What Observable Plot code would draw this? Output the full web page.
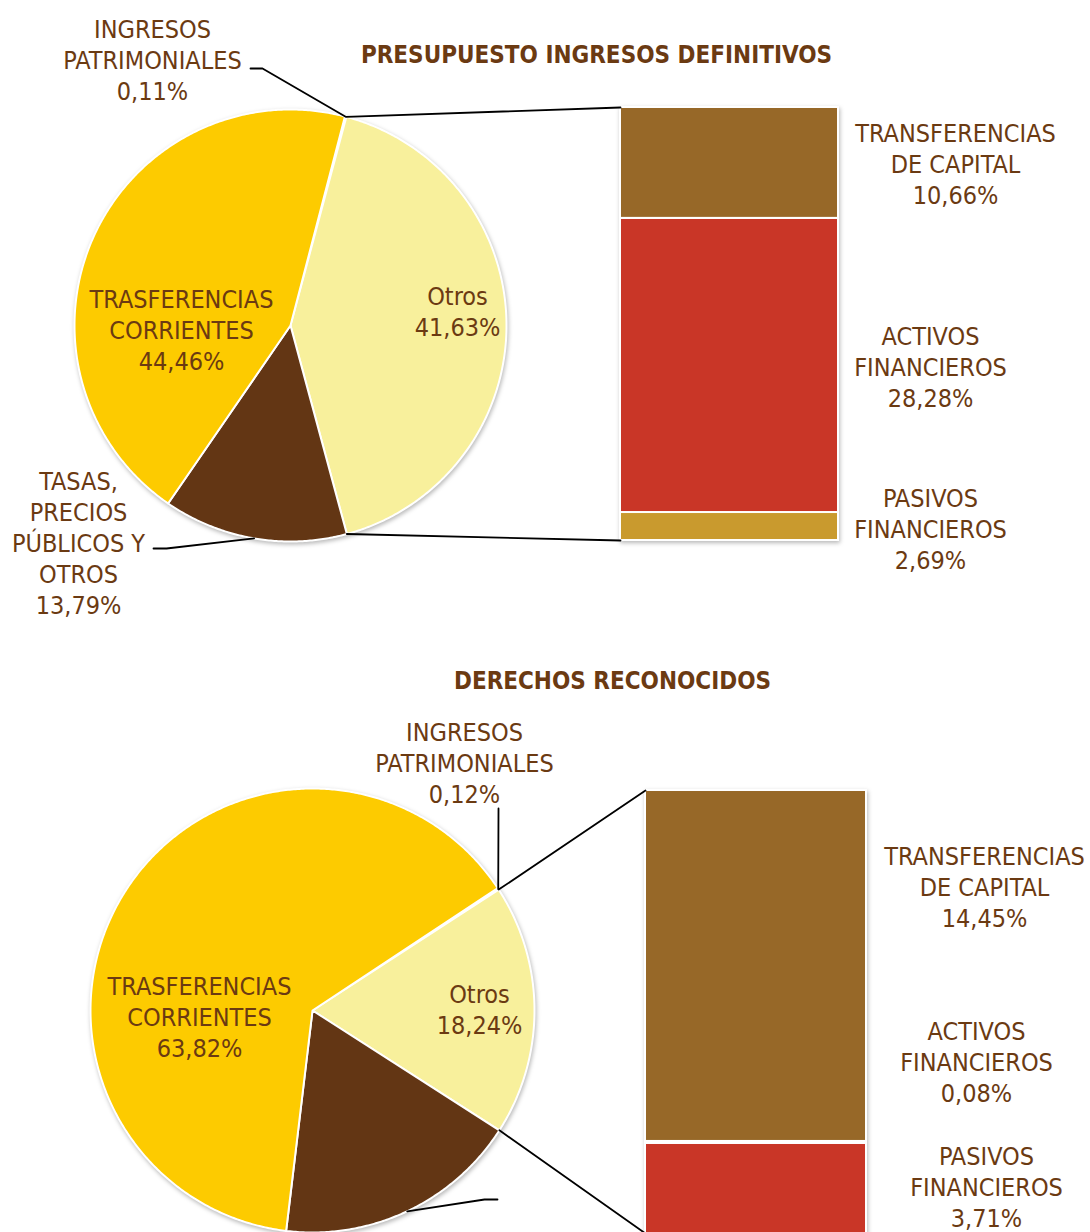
<!DOCTYPE html>
<html><head><meta charset="utf-8">
<script src="https://cdn.jsdelivr.net/npm/d3@7"></script>
<script src="https://cdn.jsdelivr.net/npm/@observablehq/plot@0.6"></script>
<style>
body{margin:0;background:#fff;}
#root{position:relative;width:1090px;height:1232px;overflow:hidden;background:#fff;}
#root svg{position:absolute;left:0;top:0;background:transparent !important;max-width:none !important;}
</style></head><body><div id="root"></div>
<script>
// ---------- DATA ----------
const titles = ["PRESUPUESTO INGRESOS DEFINITIVOS", "DERECHOS RECONOCIDOS"];
const pieCategories = ["INGRESOS\nPATRIMONIALES", "Otros", "TASAS,\nPRECIOS\nPÚBLICOS Y\nOTROS", "TRASFERENCIAS\nCORRIENTES"];
const pieColors = ["#F4C000", "#F8F09C", "#633614", "#FDCB00"];
const presupuestoPie = [0.11, 41.63, 13.79, 44.46];
const derechosPie = [0.12, 18.24, 17.82, 63.82];
const barCategories = ["PASIVOS\nFINANCIEROS", "ACTIVOS\nFINANCIEROS", "TRANSFERENCIAS\nDE CAPITAL"];
const presupuestoBarColors = ["#C99A2E", "#C93627", "#976828"];
const derechosBarColors = ["#C93627", "#C99A2E", "#976828"];
const presupuestoBar = [2.69, 28.28, 10.66];
const derechosBar = [3.71, 0.08, 14.45];

// ---------- LAYOUT ----------
const W = 1090, H = 1232;
const TEXT = "#6B3A12";
const FONT = "'DejaVu Sans Condensed', 'DejaVu Sans', sans-serif";
const charts = [
  {
    title: titles[0], titleX: 596, titleY: 55,
    pie: presupuestoPie, bar: presupuestoBar, barColors: presupuestoBarColors,
    cx: 290, cy: 325, r: 216, start: 14.6,
    bx1: 620, bx2: 838, btop: 107, bbottom: 540,
    pieLabelPos: [[152, 59], [457, 310.5], [78, 541.5], [181, 329]],
    barLabelPos: [[930, 528], [930, 366], [955, 163]],
    leaders: [[0, [[250, 68], [262, 68]]], [2, [[153, 548], [166, 548]]]]
  },
  {
    title: titles[1], titleX: 612, titleY: 681,
    pie: derechosPie, bar: derechosBar, barColors: derechosBarColors,
    cx: 312, cy: 1010, r: 222, start: 56.57,
    bx1: 645, bx2: 866, btop: 790, bbottom: 1233,
    pieLabelPos: [[464, 762], [479, 1008.5], null, [199, 1016]],
    barLabelPos: [[986, 1186], [976, 1061], [984, 886]],
    leaders: [[0, [[498, 808]]], [2, [[497, 1199], [484, 1199]]]]
  }
];

const fmt = v => v.toFixed(2).replace(".", ",") + "%";
const rad = d => d * Math.PI / 180;
const root = document.getElementById("root");

function addPlot(opts, extraStyle) {
  const svg = Plot.plot(Object.assign({
    width: W, height: H, margin: 0,
    style: {background: "transparent", overflow: "visible"}
  }, opts));
  if (extraStyle) svg.style.filter = extraStyle;
  root.appendChild(svg);
  return svg;
}

for (const c of charts) {
  const pie = d3.pie().sort(null).value(d => d.value)
    .startAngle(rad(c.start)).endAngle(rad(c.start) + 2 * Math.PI);
  const slices = pie(c.pie.map((v, i) => ({key: pieCategories[i], value: v, color: pieColors[i], i})));

  // slice polygons in unit coordinates (x = sin, y = -cos)
  const pts = [];
  for (const s of slices) {
    const n = Math.max(2, Math.ceil((s.endAngle - s.startAngle) / rad(0.5)));
    pts.push({k: s.data.i, x: 0, y: 0, color: s.data.color});
    for (let j = 0; j <= n; j++) {
      const a = s.startAngle + (s.endAngle - s.startAngle) * j / n;
      pts.push({k: s.data.i, x: Math.sin(a), y: -Math.cos(a), color: s.data.color});
    }
  }
  addPlot({
    x: {domain: [-1, 1], range: [c.cx - c.r, c.cx + c.r], axis: null},
    y: {domain: [-1, 1], range: [c.cy - c.r, c.cy + c.r], axis: null},
    color: {type: "identity"},
    marks: [
      Plot.line(pts, {x: "x", y: "y", z: "k", fill: "color", stroke: "white", strokeWidth: 2, curve: "linear-closed", strokeLinejoin: "round"})
    ]
  }, "drop-shadow(1px 2px 2px rgba(0,0,0,0.28))");

  // stacked bar
  const total = d3.sum(c.bar);
  const barData = c.bar.map((v, i) => ({key: barCategories[i], value: v, color: c.barColors[i]}));
  addPlot({
    x: {type: "band", domain: ["bar"], range: [c.bx1, c.bx2], padding: 0, axis: null},
    y: {domain: [0, total], range: [c.bbottom, c.btop], axis: null},
    color: {type: "identity"},
    marks: [
      Plot.barY(barData, {x: () => "bar", y: "value", fill: "color", stroke: "white", strokeWidth: 2, inset: 0})
    ]
  }, "drop-shadow(1px 2px 2px rgba(0,0,0,0.28))");

  // annotations (pixel space)
  const P = a => [c.cx + c.r * Math.sin(a), c.cy - c.r * Math.cos(a)];
  const lines = [];
  c.leaders.forEach(([si, anchor], li) => {
    const s = slices[si];
    const end = P((s.startAngle + s.endAngle) / 2);
    [...anchor, end].forEach(p => lines.push({id: "L" + li, x: p[0], y: p[1]}));
  });
  const otros = slices[1];
  const a0 = P(otros.startAngle), a1 = P(otros.endAngle);
  lines.push({id: "C0", x: a0[0], y: a0[1]}, {id: "C0", x: c.bx1, y: c.btop});
  lines.push({id: "C1", x: a1[0], y: a1[1]}, {id: "C1", x: c.bx1, y: c.bbottom});

  const labels = [];
  slices.forEach((s, i) => {
    const p = c.pieLabelPos[i];
    if (p) labels.push({x: p[0], y: p[1], text: s.data.key + "\n" + fmt(s.data.value)});
  });
  barData.forEach((d, i) => {
    const p = c.barLabelPos[i];
    labels.push({x: p[0], y: p[1], text: d.key + "\n" + fmt(d.value)});
  });

  addPlot({
    x: {domain: [0, W], range: [0, W], axis: null},
    y: {domain: [0, H], range: [0, H], axis: null},
    marks: [
      Plot.line(lines, {x: "x", y: "y", z: "id", stroke: "black", strokeWidth: 1.8}),
      Plot.text(labels, {x: "x", y: "y", text: "text", fill: TEXT, fontSize: 25, fontFamily: FONT, lineHeight: 1.24, lineAnchor: "middle", textAnchor: "middle"}),
      Plot.text([c.title], {x: c.titleX, y: c.titleY, text: d => d, fill: TEXT, fontSize: 24, fontWeight: "bold", fontFamily: FONT, lineAnchor: "middle", textAnchor: "middle"})
    ]
  });
}
</script></body></html>
